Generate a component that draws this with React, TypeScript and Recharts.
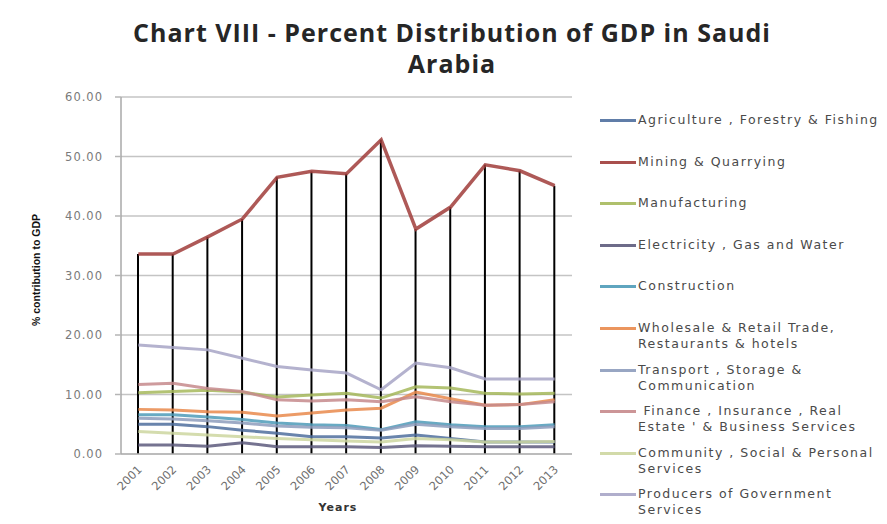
import React from 'react';
import {
  ComposedChart,
  Line,
  Bar,
  XAxis,
  YAxis,
  CartesianGrid,
} from 'recharts';

const years = ['2001', '2002', '2003', '2004', '2005', '2006', '2007', '2008', '2009', '2010', '2011', '2012', '2013'];

const agriculture = [5.0, 5.0, 4.6, 4.0, 3.5, 2.9, 2.9, 2.7, 3.2, 2.6, 2.0, 2.0, 2.0];
const mining = [33.6, 33.6, 36.5, 39.5, 46.5, 47.5, 47.1, 52.8, 37.8, 41.5, 48.6, 47.6, 45.1];
const manufacturing = [10.3, 10.5, 10.7, 10.4, 9.6, 9.9, 10.2, 9.4, 11.3, 11.1, 10.2, 10.1, 10.2];
const electricity = [1.5, 1.5, 1.3, 1.9, 1.2, 1.2, 1.2, 1.1, 1.4, 1.3, 1.2, 1.2, 1.2];
const construction = [6.6, 6.6, 6.2, 5.8, 5.2, 4.9, 4.8, 4.1, 5.4, 4.9, 4.6, 4.6, 4.9];
const wholesale = [7.5, 7.4, 7.1, 7.0, 6.4, 6.9, 7.4, 7.7, 10.4, 9.3, 8.2, 8.3, 9.1];
const transport = [6.0, 5.9, 5.6, 5.2, 4.7, 4.5, 4.4, 4.0, 5.0, 4.6, 4.3, 4.3, 4.6];
const finance = [11.7, 11.9, 11.0, 10.5, 9.1, 8.9, 9.1, 8.8, 9.6, 8.8, 8.2, 8.3, 8.8];
const community = [3.8, 3.5, 3.2, 2.9, 2.6, 2.4, 2.2, 2.0, 2.6, 2.4, 2.0, 2.0, 2.1];
const government = [18.3, 17.9, 17.5, 16.1, 14.7, 14.1, 13.6, 10.8, 15.3, 14.5, 12.6, 12.6, 12.6];

const yTicks = [0, 10, 20, 30, 40, 50, 60];

const series = [
  { key: 'agriculture', values: agriculture, color: '#4f6f9e', label: ['Agriculture , Forestry & Fishing'] },
  { key: 'mining', values: mining, color: '#a03c3a', label: ['Mining & Quarrying'] },
  { key: 'manufacturing', values: manufacturing, color: '#a6b95c', label: ['Manufacturing'] },
  { key: 'electricity', values: electricity, color: '#5d5b7c', label: ['Electricity , Gas and Water'] },
  { key: 'construction', values: construction, color: '#4e9bb8', label: ['Construction'] },
  { key: 'wholesale', values: wholesale, color: '#e98a4c', label: ['Wholesale & Retail Trade,', 'Restaurants & hotels'] },
  { key: 'transport', values: transport, color: '#8d9cbc', label: ['Transport , Storage &', 'Communication'] },
  { key: 'finance', values: finance, color: '#c68a8c', label: [' Finance , Insurance , Real', "Estate ' & Business Services"] },
  { key: 'community', values: community, color: '#cdd6a0', label: ['Community , Social & Personal', 'Services'] },
  { key: 'government', values: government, color: '#a7a5c6', label: ['Producers of Government', 'Services'] },
];

const data = years.map((year, i) => {
  const row: { [k: string]: string | number } = { year };
  series.forEach((s) => {
    row[s.key] = s.values[i];
  });
  return row;
});

const FONT = '"DejaVu Sans", sans-serif';

const YearTick = ({ x, y, payload }: { x?: number; y?: number; payload?: { value: string } }) => (
  <g transform={`translate(${x},${(y || 0) + 4})`}>
    <text
      x={0}
      y={0}
      dy={6}
      textAnchor="end"
      transform="rotate(-45)"
      fill="#6e6e6e"
      fontSize={11.5}
      fontFamily={FONT}
    >
      {payload?.value}
    </text>
  </g>
);

// legend drawn beside the plot, same look as the excel one
const SideLegend = () => (
  <div
    style={{
      position: 'absolute',
      left: 600,
      top: 112,
      width: 287,
      fontFamily: FONT,
      fontSize: 12.5,
      color: '#4a4a4a',
      letterSpacing: 1.5,
    }}
  >
    {series.map((s) => (
      <div key={s.key} style={{ display: 'flex', height: 41.6, alignItems: 'flex-start' }}>
        <div style={{ width: 36, height: 16, position: 'relative', flexShrink: 0 }}>
          <div
            style={{
              position: 'absolute',
              left: 0,
              right: 0,
              top: 7,
              height: 3,
              background: s.color,
              opacity: 0.9,
            }}
          />
        </div>
        <div style={{ lineHeight: '16px', whiteSpace: 'pre', paddingLeft: 2 }}>
          {s.label.map((t, i) => (
            <div key={i}>{t}</div>
          ))}
        </div>
      </div>
    ))}
  </div>
);

export default function App() {
  return (
    <div style={{ position: 'absolute', left: 0, top: 0, width: 887, height: 524, background: '#fff' }}>
      <div
        style={{
          position: 'absolute',
          left: 0,
          width: 904,
          top: 17,
          textAlign: 'center',
          fontFamily: '"Open Sans", sans-serif',
          fontWeight: 700,
          fontSize: 25,
          letterSpacing: 1,
          lineHeight: '31px',
          color: '#262626',
        }}
      >
        Chart VIII - Percent Distribution of GDP in Saudi
        <br />
        Arabia
      </div>
      <div
        style={{
          position: 'absolute',
          left: 36,
          top: 270,
          transform: 'translate(-50%, -50%) rotate(-90deg)',
          fontFamily: '"Liberation Sans", sans-serif',
          fontWeight: 700,
          fontSize: 10.5,
          whiteSpace: 'nowrap',
          color: '#111',
        }}
      >
        % contribution to GDP
      </div>
      <div
        style={{
          position: 'absolute',
          left: 338,
          top: 507,
          transform: 'translate(-50%, -50%)',
          fontFamily: FONT,
          fontWeight: 700,
          fontSize: 11,
          letterSpacing: 1,
          color: '#333',
        }}
      >
        Years
      </div>
      <ComposedChart
        width={887}
        height={524}
        data={data}
        margin={{ top: 97, right: 315, bottom: 30, left: 0 }}
        style={{ position: 'absolute', left: 0, top: 0 }}
      >
        <CartesianGrid vertical={false} stroke="#c4c4c4" strokeWidth={1.5} />
        <XAxis
          dataKey="year"
          height={40}
          tick={<YearTick />}
          tickLine={false}
          axisLine={{ stroke: '#b5b5b5', strokeWidth: 1.5 }}
          interval={0}
        />
        <YAxis
          width={121}
          domain={[0, 60]}
          ticks={yTicks}
          tickFormatter={(v: number) => v.toFixed(2)}
          tick={{ fill: '#7a7a7a', fontSize: 11.5, fontFamily: FONT, letterSpacing: 1 }}
          tickSize={6}
          tickMargin={12}
          tickLine={{ stroke: '#b5b5b5', strokeWidth: 1.5 }}
          axisLine={{ stroke: '#a8a8a8', strokeWidth: 1.5 }}
        />
        {series.map((s) => (
          <Line
            key={s.key}
            dataKey={s.key}
            type="linear"
            stroke={s.color}
            strokeWidth={s.key === 'mining' ? 3.5 : 3}
            strokeOpacity={0.85}
            dot={false}
            activeDot={false}
            isAnimationActive={false}
          />
        ))}
        <Bar dataKey="mining" barSize={2} fill="#000" legendType="none" isAnimationActive={false} />
      </ComposedChart>
      <SideLegend />
    </div>
  );
}
